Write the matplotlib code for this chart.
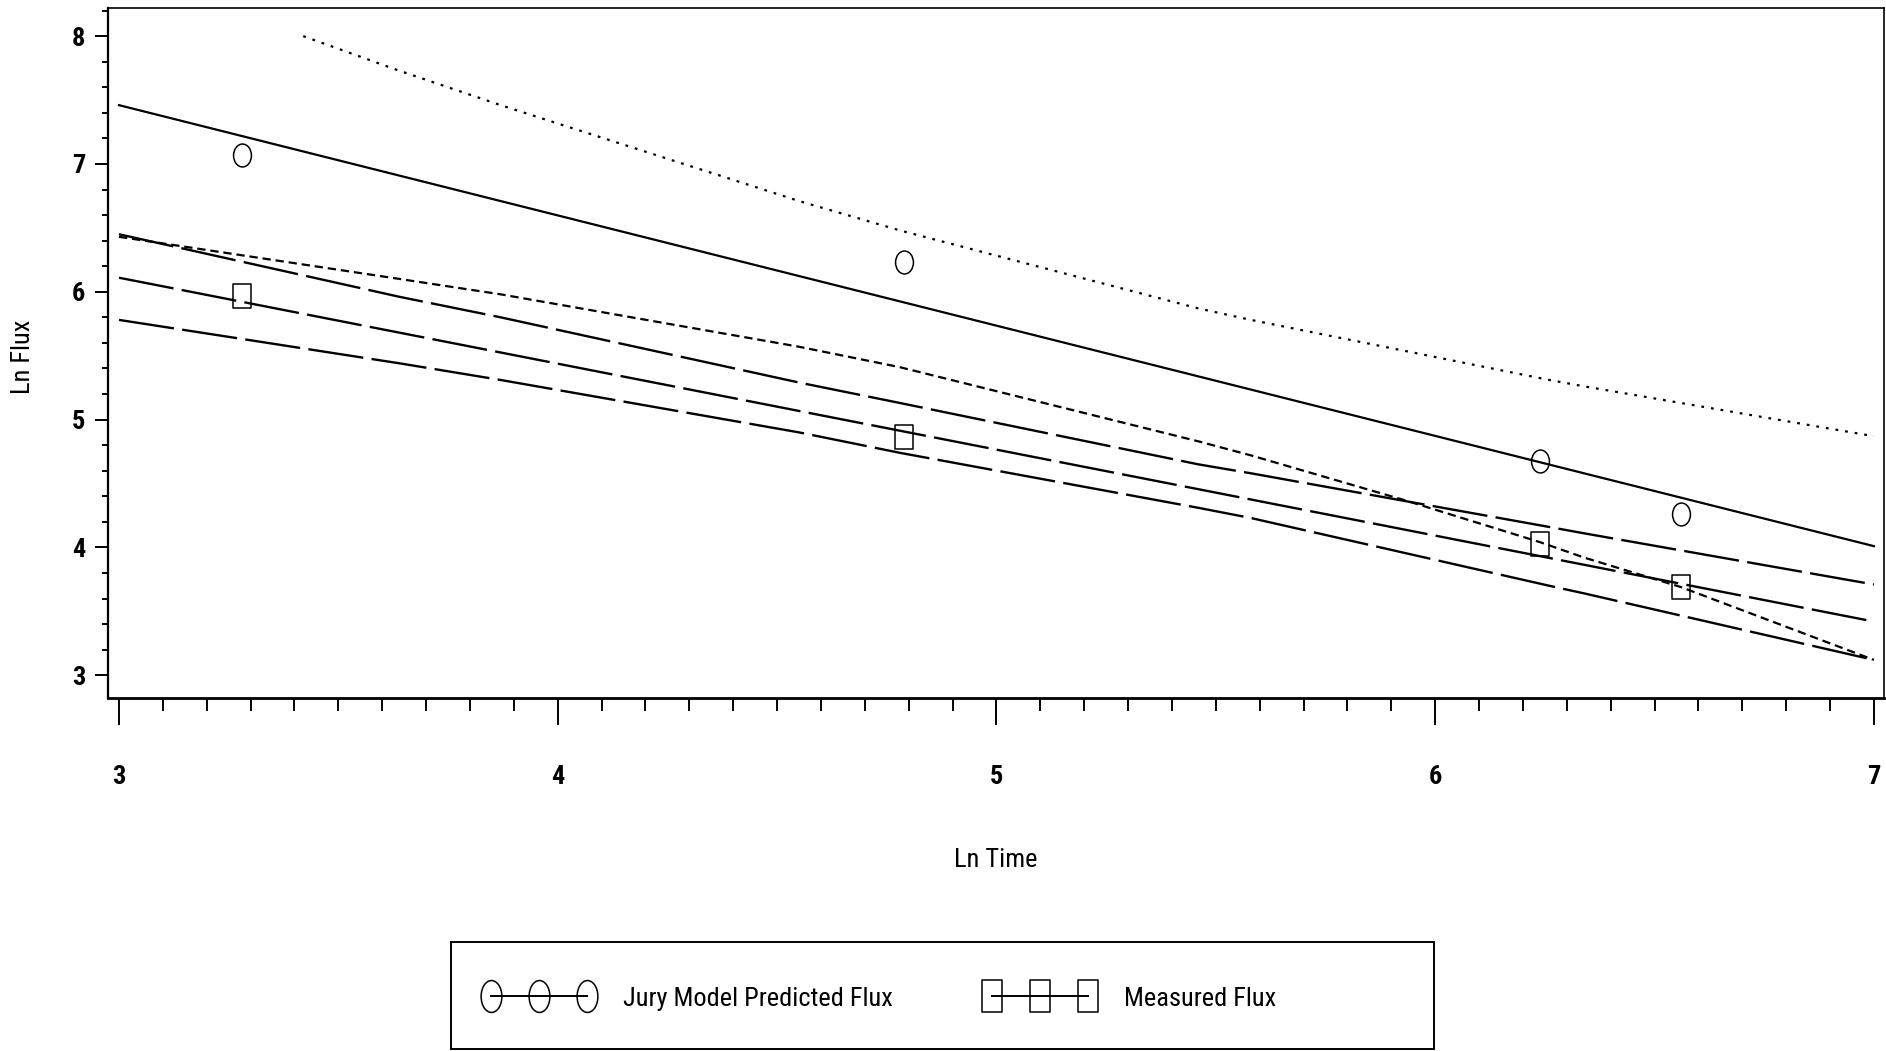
import matplotlib
matplotlib.use("Agg")
import matplotlib.pyplot as plt
from matplotlib import font_manager
from matplotlib.path import Path
from matplotlib.lines import Line2D
from matplotlib.ticker import MultipleLocator


def pick_family():
    # SAS output used a narrow Helvetica; use a condensed face if one is here
    for fam in ['Liberation Sans Narrow', 'Roboto Condensed', 'Open Sans Condensed']:
        try:
            font_manager.findfont(font_manager.FontProperties(family=fam),
                                  fallback_to_default=False)
            return fam, 19
        except ValueError:
            pass
    return 'Liberation Sans', 17


family, fsize = pick_family()
plt.rcParams['font.family'] = [family, 'DejaVu Sans']
plt.rcParams['lines.scale_dashes'] = False

# observed points (ln time, ln flux)
ln_time = [3.28, 4.79, 6.24, 6.56]
jury_pred = [7.07, 6.23, 4.68, 4.26]
measured = [5.97, 4.86, 4.03, 3.69]

# fitted regression lines
fit_x = [3.0, 7.0]
jury_fit = [7.46, 4.01]
meas_fit = [6.11, 3.42]

# confidence bands
jury_up_x = [3.42, 3.63, 3.87, 4.55, 4.78, 5.46, 5.58, 6.26, 6.34, 7.0]
jury_up = [8.00, 7.74, 7.46, 6.71, 6.48, 5.87, 5.78, 5.31, 5.26, 4.87]
jury_lo_x = [3.0, 3.64, 3.87, 4.55, 4.78, 5.46, 5.58, 5.93, 6.24, 6.34, 6.56, 7.0]
jury_lo = [6.43, 6.10, 5.98, 5.57, 5.41, 4.83, 4.72, 4.37, 4.04, 3.92, 3.69, 3.12]
meas_band_x = [3.0, 3.64, 3.87, 4.55, 4.78, 5.46, 5.58, 6.26, 6.34, 7.0]
meas_up = [6.45, 5.96, 5.80, 5.29, 5.13, 4.65, 4.58, 4.16, 4.11, 3.71]
meas_lo = [5.78, 5.44, 5.31, 4.90, 4.74, 4.31, 4.23, 3.70, 3.64, 3.12]

x_ticks = [3, 4, 5, 6, 7]
y_ticks = [3, 4, 5, 6, 7, 8]

# slightly tall markers like the scanned SAS plot
circ = Path.unit_circle()
ellipse = Path(circ.vertices * [0.78, 1.0], circ.codes)
ellipse_leg = Path(circ.vertices * [0.65, 1.0], circ.codes)
sq_codes = [Path.MOVETO, Path.LINETO, Path.LINETO, Path.LINETO, Path.CLOSEPOLY]
rect = Path([(-0.8, -1), (0.8, -1), (0.8, 1), (-0.8, 1), (-0.8, -1)], sq_codes)
rect_leg = Path([(-0.65, -1), (0.65, -1), (0.65, 1), (-0.65, 1), (-0.65, -1)], sq_codes)

W, H = 1886, 1051
fig = plt.figure(figsize=(W / 100, H / 100), dpi=100)
ax = fig.add_axes([108 / W, 1 - 698 / H, (1884 - 108) / W, (698 - 8) / H])

long_dash = (0, (40, 6))
short_dash = (0, (6, 3.5))
dotted = (0, (2, 5))

ax.plot(fit_x, jury_fit, color='k', lw=1.6, ls='-')
ax.plot(jury_up_x, jury_up, color='k', lw=1.6, ls=dotted)
ax.plot(jury_lo_x, jury_lo, color='k', lw=1.6, ls=short_dash)
ax.plot(fit_x, meas_fit, color='k', lw=1.7, ls=long_dash)
ax.plot(meas_band_x, meas_up, color='k', lw=1.7, ls=long_dash)
ax.plot(meas_band_x, meas_lo, color='k', lw=1.7, ls=long_dash)

ax.plot(ln_time, jury_pred, ls='none', marker=ellipse, ms=16.5, mfc='none', mec='k', mew=1.1)
ax.plot(ln_time, measured, ls='none', marker=rect, ms=17, mfc='none', mec='k', mew=1.1)

ax.set_xlim(2.975, 7.023)
ax.set_ylim(2.822, 8.22)
ax.set_xticks(x_ticks)
ax.set_yticks(y_ticks)
ax.xaxis.set_minor_locator(MultipleLocator(0.1))
ax.yaxis.set_minor_locator(MultipleLocator(0.2))
ax.tick_params(axis='x', which='major', direction='out', length=19.5, width=1.4, pad=29, labelsize=fsize)
ax.tick_params(axis='x', which='minor', direction='out', length=9.5, width=1.4)
ax.tick_params(axis='y', which='major', direction='out', length=9.5, width=1.4, pad=7, labelsize=fsize)
ax.tick_params(axis='y', which='minor', direction='out', length=4.5, width=1.4)
for lbl in ax.get_xticklabels() + ax.get_yticklabels():
    lbl.set_fontweight('bold')
for side in ['top', 'right']:
    ax.spines[side].set_linewidth(1.2)
ax.spines['left'].set_linewidth(1.6)
ax.spines['bottom'].set_linewidth(2.0)

ax.set_xlabel('Ln Time', fontsize=fsize)
ax.xaxis.set_label_coords(0.5, -(848 - 698) / 690)
ax.set_ylabel('Ln Flux', fontsize=fsize)
ax.yaxis.set_label_coords(-(108 - 35) / 1776, 0.5 + (353 - 357) / 690)

# legend box
lax = fig.add_axes([451 / W, 1 - 1049 / H, 983 / W, 107 / H])
lax.set_xticks([])
lax.set_yticks([])
for s in lax.spines.values():
    s.set_linewidth(1.4)

hlen = 80.5 / fsize
tpad = 20.0 / fsize
h_jury = Line2D([], [], color='k', lw=1.4, marker=ellipse_leg, ms=23, mfc='none', mec='k', mew=1.1)
h_meas = Line2D([], [], color='k', lw=1.4, marker=rect_leg, ms=23, mfc='none', mec='k', mew=1.1)
leg1 = lax.legend([h_jury], ['Jury Model Predicted Flux'], loc='center left',
                  bbox_to_anchor=(32 / 983, 0.47), frameon=False, numpoints=3,
                  handlelength=hlen, handletextpad=tpad, borderpad=0, borderaxespad=0,
                  fontsize=fsize)
lax.add_artist(leg1)
lax.legend([h_meas], ['Measured Flux'], loc='center left',
           bbox_to_anchor=(533 / 983, 0.47), frameon=False, numpoints=3,
           handlelength=hlen, handletextpad=tpad, borderpad=0, borderaxespad=0,
           fontsize=fsize)

fig.savefig('out.png', dpi=100)
